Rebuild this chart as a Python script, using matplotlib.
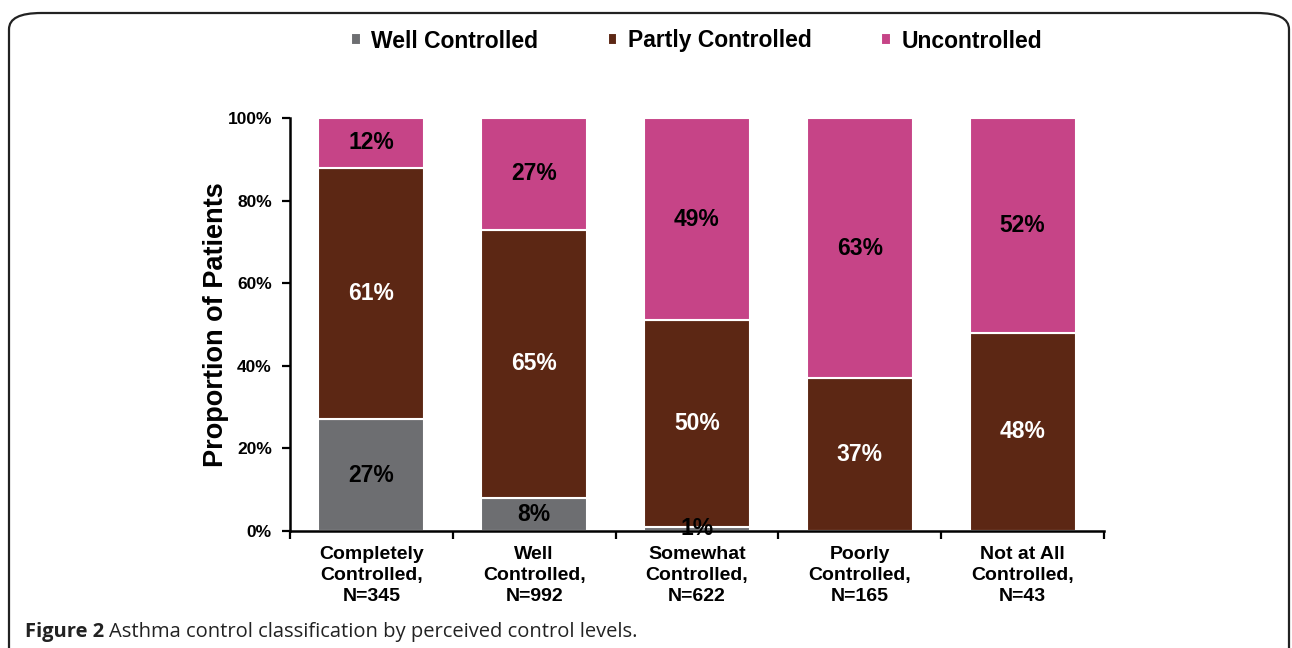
import matplotlib.pyplot as plt
from matplotlib.patches import FancyBboxPatch
import numpy as np

plt.rcParams['font.family'] = ['Liberation Sans', 'DejaVu Sans']

categories = ['Completely\nControlled,\nN=345', 'Well\nControlled,\nN=992',
              'Somewhat\nControlled,\nN=622', 'Poorly\nControlled,\nN=165',
              'Not at All\nControlled,\nN=43']
well = [27, 8, 1, 0, 0]
partly = [61, 65, 50, 37, 48]
uncontrolled = [12, 27, 49, 63, 52]

series = [('Well Controlled', well, '#6d6e71', 'black'),
          ('Partly Controlled', partly, '#5c2714', 'white'),
          ('Uncontrolled', uncontrolled, '#c64487', 'black')]

fig = plt.figure(figsize=(12.92, 6.48), dpi=100)

# rounded frame around the figure (open at the bottom)
frame = FancyBboxPatch((9 / 1292, -0.2), 1280 / 1292, 1 - 13 / 648 + 0.2,
                       boxstyle='round,pad=0,rounding_size=0.025',
                       transform=fig.transFigure, fill=False,
                       edgecolor='#222222', linewidth=1.6)
fig.patches.append(frame)

ax = fig.add_axes([290 / 1292, 1 - 531 / 648, (1104 - 290) / 1292, (531 - 118) / 648])

x = np.arange(len(categories))
bottom = np.zeros(len(categories))
handles = []
for name, vals, color, tcolor in series:
    vals = np.array(vals, dtype=float)
    bars = ax.bar(x, vals, 0.65, bottom=bottom, color=color,
                  edgecolor='white', linewidth=1.5, label=name)
    handles.append(bars)
    for xi, b, v in zip(x, bottom, vals):
        if v > 0:
            ax.text(xi, b + v / 2, f'{int(v)}%', ha='center', va='center',
                    fontsize=16.5, fontweight='bold', color=tcolor)
    bottom += vals

ax.set_xlim(-0.5, len(categories) - 0.5)
ax.set_ylim(0, 100)
ax.set_yticks([0, 20, 40, 60, 80, 100])
ax.set_yticklabels([f'{t}%' for t in [0, 20, 40, 60, 80, 100]],
                   fontsize=12.5, fontweight='bold')
ax.set_xticks(x)
ax.set_xticklabels(categories, fontsize=14, fontweight='bold', linespacing=1.3)
ax.set_xticks(np.arange(len(categories) + 1) - 0.5, minor=True)
ax.tick_params(axis='x', which='major', length=0, pad=11)
ax.tick_params(axis='x', which='minor', length=6, width=1.6, direction='out')
ax.tick_params(axis='y', length=6, width=1.6, direction='out', pad=7)
for s in ['top', 'right']:
    ax.spines[s].set_visible(False)
for s in ['left', 'bottom']:
    ax.spines[s].set_linewidth(1.8)
ax.set_ylabel('Proportion of Patients', fontsize=19.5, fontweight='bold', labelpad=-1)

fig.legend(handles=handles, loc='center', bbox_to_anchor=(0.539, 1 - 41 / 648),
           ncol=3, frameon=False, prop={'weight': 'bold', 'size': 16.5},
           handlelength=0.42, handleheight=0.42, handletextpad=0.45,
           columnspacing=3.05)

cap_y = 1 - 632 / 648
t1 = fig.text(25 / 1292, cap_y, 'Figure 2', fontsize=14.5,
              fontweight='bold', family='Open Sans', va='center', ha='left',
              color='#222222')
fig.canvas.draw()
bb = t1.get_window_extent()
fig.text((bb.x1 + 5) / 1292, cap_y, 'Asthma control classification by perceived control levels.',
         fontsize=14.5, family='Open Sans', va='center', ha='left', color='#222222')

fig.savefig('out.png', dpi=100)
